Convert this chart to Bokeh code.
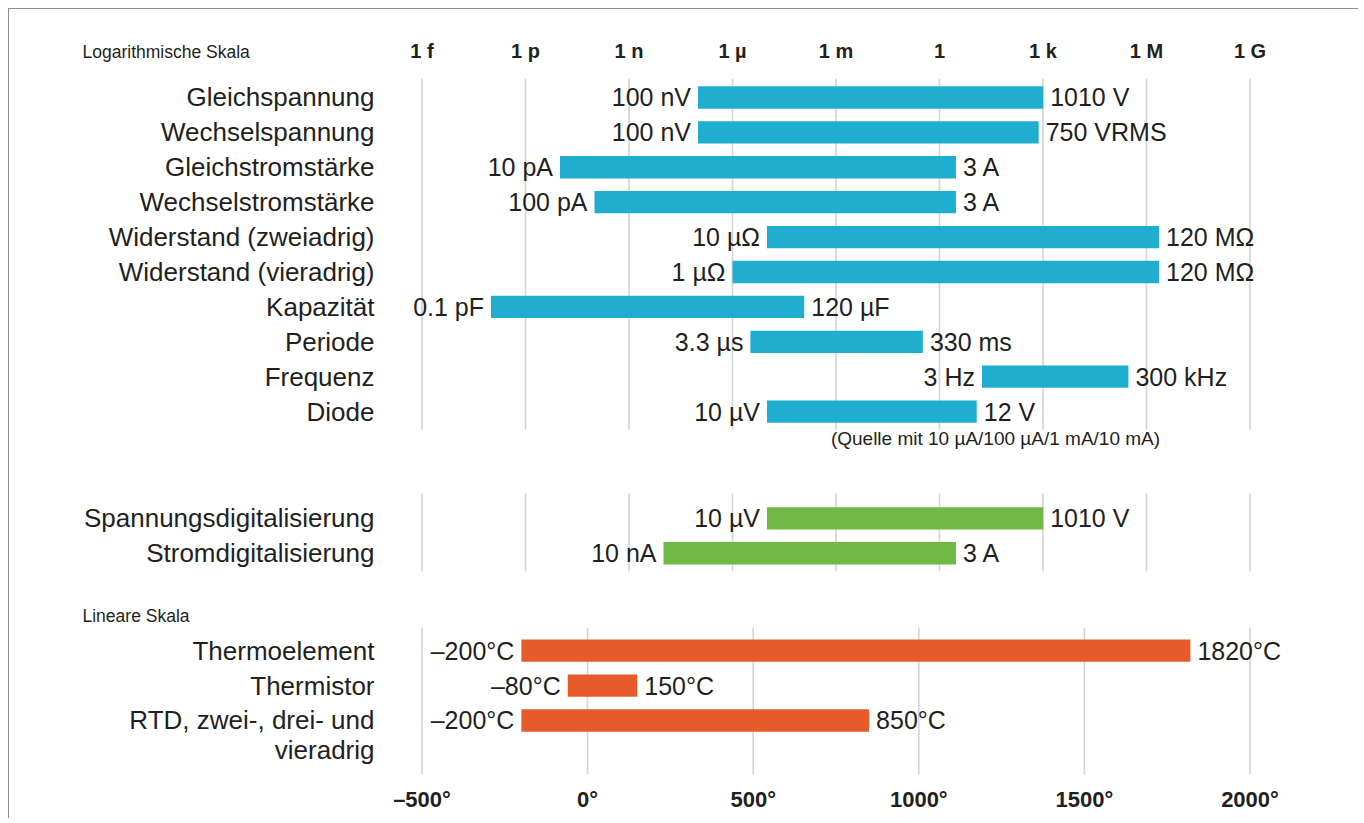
from bokeh.plotting import figure
from bokeh.models import (Range1d, LinearScale, LinearAxis, FixedTicker,
                          CustomJSTickFormatter, ColumnDataSource)
from bokeh.core.properties import value
from bokeh.embed import file_html
from bokeh.resources import INLINE

# ---------------- data ----------------
log_names = ["Gleichspannung", "Wechselspannung", "Gleichstromstärke", "Wechselstromstärke",
             "Widerstand (zweiadrig)", "Widerstand (vieradrig)", "Kapazität", "Periode",
             "Frequenz", "Diode"]
log_lo = [1e-7, 1e-7, 1e-11, 1e-10, 1e-5, 1e-6, 1e-13, 3.3e-6, 17, 1e-5]
log_hi = [1010, 750, 3, 3, 2.3e6, 2.3e6, 1.2e-4, 0.33, 3e5, 12]
log_lo_txt = ["100 nV", "100 nV", "10 pA", "100 pA", "10 µΩ", "1 µΩ", "0.1 pF", "3.3 µs", "3 Hz", "10 µV"]
log_hi_txt = ["1010 V", "750 VRMS", "3 A", "3 A", "120 MΩ", "120 MΩ", "120 µF", "330 ms", "300 kHz", "12 V"]
diode_note = "(Quelle mit 10 µA/100 µA/1 mA/10 mA)"

dig_names = ["Spannungsdigitalisierung", "Stromdigitalisierung"]
dig_lo = [1e-5, 1e-8]
dig_hi = [1010, 3]
dig_lo_txt = ["10 µV", "10 nA"]
dig_hi_txt = ["1010 V", "3 A"]

temp_names = ["Thermoelement", "Thermistor", "RTD, zwei-, drei- und"]
temp_name_cont = "vieradrig"
temp_lo = [-200, -60, -200]
temp_hi = [1820, 150, 850]
temp_lo_txt = ["\u2013200°C", "\u201380°C", "\u2013200°C"]
temp_hi_txt = ["1820°C", "150°C", "850°C"]

section_titles = ["Logarithmische Skala", "Lineare Skala"]

log_exps = [-15, -12, -9, -6, -3, 0, 3, 6, 9]
log_tick_txt = ["1 f", "1 p", "1 n", "1 µ", "1 m", "1", "1 k", "1 M", "1 G"]
lin_ticks = [-500, 0, 500, 1000, 1500, 2000]

# ---------------- layout constants ----------------
FONT = "Liberation Sans"
TXT = "#231f20"
BLUE, GREEN, ORANGE = "#20aed0", "#70b944", "#e65b2a"
GRID = "#d4d4d4"

W, H = 1350, 810
ML, MR, MT, MB = 71, 59, 31, 41          # frame: page x 80..1300, y 40..778
FR_L, FR_R = 80, 1300                    # frame edges (page px)
X0, SPAN = 421.5, 828.0                  # pixel of 1f / -500 and span to 1G / 2000
px_dec = SPAN / 24.0
px_deg = SPAN / 2500.0
def exp_at(px):
    return -15 + (px - X0) / px_dec
def deg_at(px):
    return -500 + (px - X0) / px_deg

sec1, sec2, sec3 = 0.0, 12.06, 15.85
y1 = [sec1 + i for i in range(len(log_names))]
y2 = [sec2 + i for i in range(len(dig_names))]
y3 = [sec3 + i for i in range(len(temp_names))]
y3_cont = y3[-1] + 0.86
grid_spans = [(sec1 - 0.54, sec1 + 9.52), (sec2 - 0.71, sec2 + 1.52), (sec3 - 0.66, sec3 + 3.55)]
title_y = [-1.29, 14.87]

p = figure(width=W, height=H, x_axis_type="log", x_axis_location="above",
           x_range=Range1d(10 ** exp_at(FR_L), 10 ** exp_at(FR_R)),
           y_range=Range1d(19.513, -1.633),
           output_backend="svg", toolbar_location=None,
           min_border_left=ML, min_border_right=MR, min_border_top=MT, min_border_bottom=MB)
p.extra_x_ranges = {"lin": Range1d(deg_at(FR_L), deg_at(FR_R))}
p.extra_x_scales = {"lin": LinearScale()}
p.xgrid.visible = False
p.ygrid.visible = False
p.yaxis.visible = False
p.outline_line_color = None
p.background_fill_color = "white"
p.border_fill_color = "white"
p.styles = {"margin-left": "8px", "margin-top": "8px",
            "border-top": "1px solid #8f8f8f", "border-left": "1px solid #8f8f8f"}

# grid segments
lg_x = [10.0 ** e for e in log_exps]
for (a, b) in grid_spans[:2]:
    p.segment(x0=lg_x, x1=lg_x, y0=[a] * len(lg_x), y1=[b] * len(lg_x), line_color=GRID, line_width=1.6)
a, b = grid_spans[2]
p.segment(x0=lin_ticks, x1=lin_ticks, y0=[a] * len(lin_ticks), y1=[b] * len(lin_ticks),
          line_color=GRID, line_width=1.6, x_range_name="lin")

BH = 0.64
VAL_FS = "25px"
def bars(y, lo, hi, lo_t, hi_t, color, rng="default"):
    src = ColumnDataSource(dict(y=y, lo=lo, hi=hi, lt=lo_t, ht=hi_t))
    p.hbar(y="y", left="lo", right="hi", height=BH, source=src, fill_color=color,
           line_color=None, x_range_name=rng)
    common = dict(y="y", source=src, text_font=value(FONT), text_font_size=VAL_FS,
                  text_color=TXT, text_baseline="middle", x_range_name=rng)
    p.text(x="lo", text="lt", text_align="right", x_offset=-7, **common)
    p.text(x="hi", text="ht", text_align="left", x_offset=7, **common)

bars(y1, log_lo, log_hi, log_lo_txt, log_hi_txt, BLUE)
bars(y2, dig_lo, dig_hi, dig_lo_txt, dig_hi_txt, GREEN)
bars(y3, temp_lo, temp_hi, temp_lo_txt, temp_hi_txt, ORANGE, "lin")

# diode note
p.text(x=[10 ** exp_at(995)], y=[y1[-1] + 0.78], text=[diode_note], text_font=value(FONT),
       text_font_size="19px", text_color=TXT, text_align="center", text_baseline="middle")

# row names (right aligned)
ypos = y1 + y2 + y3 + [y3_cont]
ynames = log_names + dig_names + temp_names + [temp_name_cont]
name_x = 10 ** exp_at(374)
p.text(x=[name_x] * len(ypos), y=ypos, text=ynames, text_font=value(FONT),
       text_font_size="26px", text_color=TXT, text_align="right", text_baseline="middle")

# section titles
title_x = 10 ** exp_at(82)
p.text(x=[title_x] * 2, y=title_y, text=section_titles, text_font=value(FONT),
       text_font_size="17.5px", text_color=TXT, text_align="left", text_baseline="middle")

# top log axis
ax = p.xaxis[0]
ax.ticker = FixedTicker(ticks=lg_x)
ax.formatter = CustomJSTickFormatter(args=dict(labels=log_tick_txt, exps=log_exps), code="""
const e = Math.round(Math.log10(tick)); const i = exps.indexOf(e); return i >= 0 ? labels[i] : '';
""")

# bottom linear axis
bx = LinearAxis(x_range_name="lin", ticker=FixedTicker(ticks=lin_ticks))
bx.formatter = CustomJSTickFormatter(code="return (tick < 0 ? '\\u2013' + Math.abs(tick) : '' + tick) + '\\u00b0';")
p.add_layout(bx, "below")

for axis in (ax, bx):
    axis.axis_line_color = None
    axis.major_tick_line_color = None
    axis.minor_tick_line_color = None
    axis.major_tick_out = 0
    axis.major_tick_in = 0
    axis.minor_tick_out = 0
    axis.major_label_text_font = FONT
    axis.major_label_text_font_style = "bold"
    axis.major_label_text_color = TXT
ax.major_label_text_font_size = "20px"
ax.major_label_standoff = -21
bx.major_label_text_font_size = "22px"
bx.major_label_standoff = 8

open("out.html", "w").write(file_html(p, INLINE))
